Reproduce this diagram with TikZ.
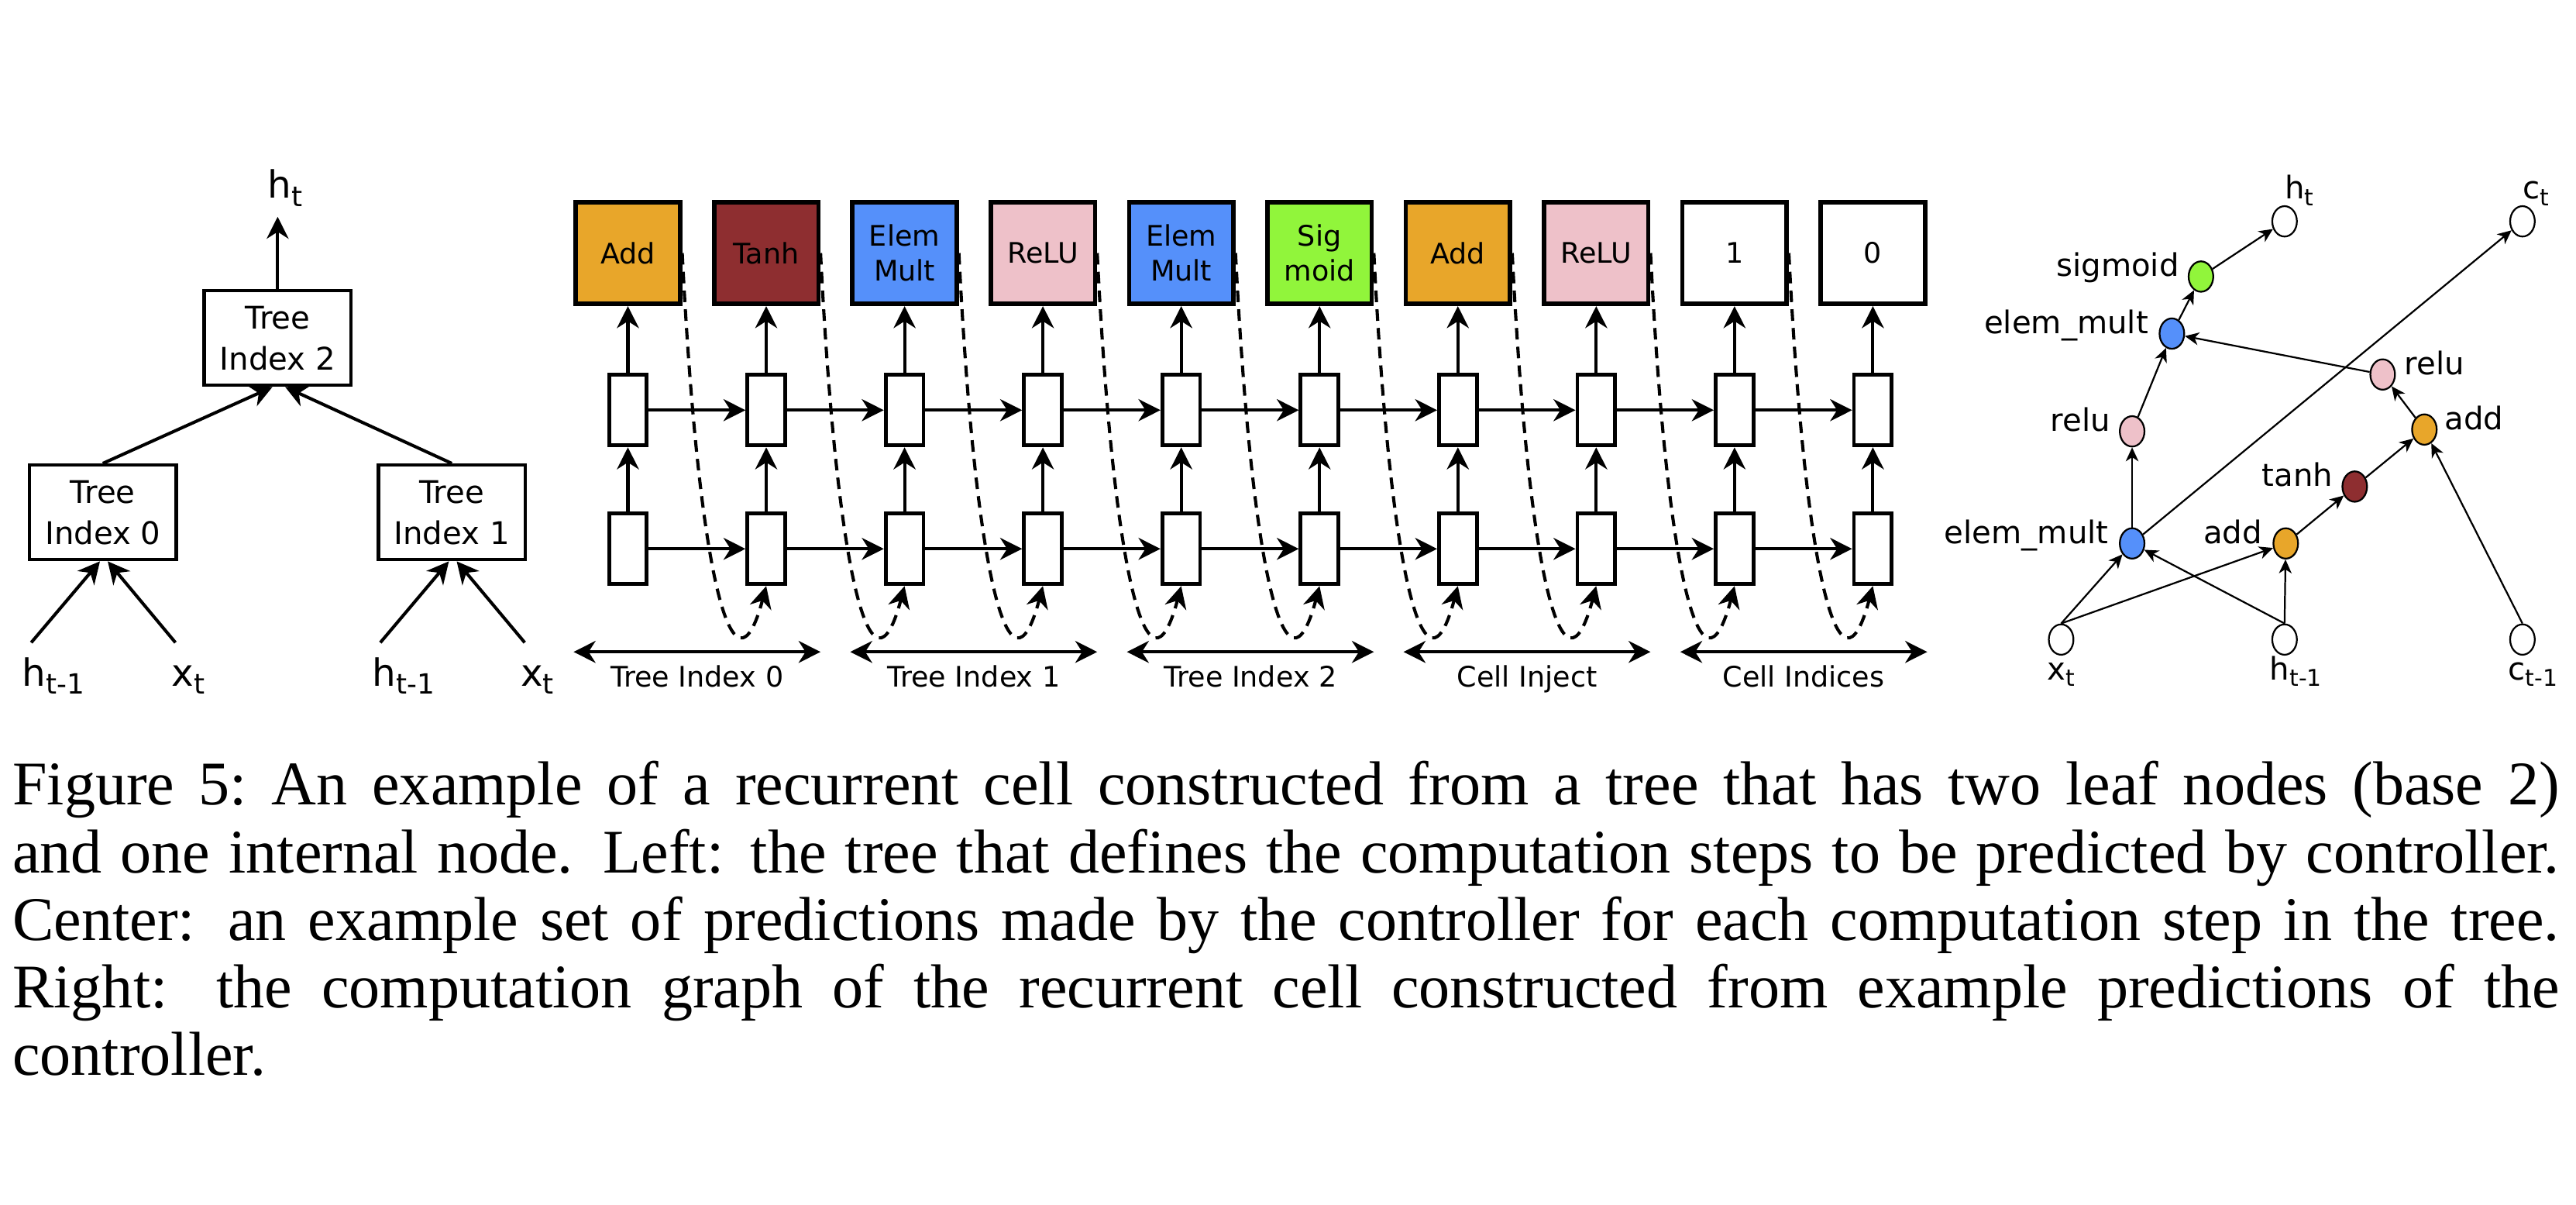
\documentclass[tikz,border=0pt]{standalone}
\usepackage{graphicx}
\usepackage{fontspec}
\setmainfont{Liberation Serif}
\newfontfamily\diafont{DejaVu Sans}
\usetikzlibrary{shapes, calc, arrows.meta, positioning}

\definecolor{addclr}{RGB}{232,166,42}
\definecolor{tanhclr}{RGB}{142,46,48}
\definecolor{multclr}{RGB}{85,144,250}
\definecolor{reluclr}{RGB}{238,193,201}
\definecolor{sigclr}{RGB}{145,245,59}

\newcommand{\lowidx}[1]{\raisebox{-0.22em}{\scalebox{0.74}{#1}}}

\begin{document}
\begin{tikzpicture}[x=0.02cm, y=-0.02cm,
    >={Stealth[length=7.6pt, width=7.6pt, inset=2.4pt]},
    tree/.style={draw, line width=1.2pt, minimum width=1.79cm, minimum height=1.15cm, inner sep=0pt, align=center, font=\diafont\fontsize{10.8}{14.2}\selectfont},
    leaf/.style={font=\diafont\fontsize{13}{15}\selectfont, inner sep=2pt, text height=12.8pt, text depth=4.3pt},
    op/.style={draw, line width=1.5pt, minimum width=1.27cm, minimum height=1.24cm, inner sep=0pt, align=center, font=\diafont\fontsize{9.8}{12}\selectfont},
    cell/.style={draw, line width=1.3pt, fill=white, minimum width=0.46cm, minimum height=0.86cm, inner sep=0pt},
    flow/.style={->, line width=1.1pt},
    jump/.style={->, line width=1.1pt, dash pattern=on 4pt off 2.5pt},
    grp/.style={font=\diafont\fontsize{9.8}{12}\selectfont, inner xsep=0pt, inner ysep=0.14cm, text height=8pt, text depth=1.6pt},
    gnode/.style={draw, ellipse, line width=0.6pt, minimum width=0.3cm, minimum height=0.37cm, inner sep=0pt},
    gname/.style={font=\diafont\fontsize{10.8}{13}\selectfont, inner sep=0pt},
    gedge/.style={-{Stealth[length=4.8pt, width=4.4pt, inset=1.4pt]}, line width=0.6pt}]

    \useasboundingbox (0,0) rectangle (1568,733);

    % left: the tree
    \node[tree] (t2) at (169,205.7) {Tree\\Index 2};
    \node[tree] (t0) at (62.6,311.8) {Tree\\Index 0};
    \node[tree] (t1) at (275,311.8) {Tree\\Index 1};
    \node[leaf, anchor=base] (out) at (173.6,120.5) {h\lowidx{t}};
    \node[leaf, anchor=base] (h0) at (32.5,417.4) {h\lowidx{t-1}};
    \node[leaf, anchor=base] (x0) at (114.6,417.4) {x\lowidx{t}};
    \node[leaf, anchor=base] (h1) at (245.5,417.4) {h\lowidx{t-1}};
    \node[leaf, anchor=base] (x1) at (327,417.4) {x\lowidx{t}};

    \draw[flow] (t2) -- (t2.north |- out.south);
    \draw[flow] (t0.north) -- ([xshift=-1.8pt]t2.south);
    \draw[flow] (t1.north) -- ([xshift=2.6pt]t2.south);
    \draw[flow] ([xshift=-0.27cm]h0.north) -- ([xshift=-1pt]t0.south);
    \draw[flow] ([xshift=-0.156cm]x0.north) -- ([xshift=1.7pt]t0.south);
    \draw[flow] ([xshift=-0.28cm]h1.north) -- ([xshift=-1pt]t1.south);
    \draw[flow] ([xshift=-0.152cm]x1.north) -- ([xshift=1.7pt]t1.south);

    % center: what the controller predicts
    \foreach \txt/\clr [count=\i from 0] in {Add/addclr, Tanh/tanhclr, {Elem\\Mult}/multclr, ReLU/reluclr, {Elem\\Mult}/multclr, {Sig\\moid}/sigclr, Add/addclr, ReLU/reluclr, 1/white, 0/white}{
        \node[op, fill=\clr] (op\i) at (382.2+84.2*\i,154) {\txt};
        \node[cell] (up\i) at (382.2+84.2*\i,249.6) {};
        \node[cell] (lo\i) at (382.2+84.2*\i,334) {};
        \draw[flow] (lo\i) -- (up\i);
        \draw[flow] (up\i) -- (op\i);
    }
    \foreach \i [evaluate=\i as \j using int(\i+1)] in {0,...,8}{
        \draw[flow] (up\i) -- (up\j);
        \draw[flow] (lo\i) -- (lo\j);
        \draw[jump] (op\i.east) .. controls +(10,200) and +(-20,75) .. (lo\j.south);
    }
    \foreach \grp [count=\k from 0] in {Tree Index 0, Tree Index 1, Tree Index 2, Cell Inject, Cell Indices}{
        \pgfmathtruncatemacro{\a}{2*\k}
        \pgfmathtruncatemacro{\b}{2*\k+1}
        \node[grp] (g\k) at (424.3+168.4*\k,412.5) {\grp};
        \draw[<->, line width=1.1pt] (op\a.west |- g\k.north) -- (op\b.east |- g\k.north);
    }

    % right: the computation graph
    \node[gnode] (xt) at (1254.6,389.2) {};
    \node[gnode] (hp) at (1390.6,389.2) {};
    \node[gnode] (cp) at (1535.4,389.2) {};
    \node[gnode, fill=multclr] (em1) at (1297.8,330.7) {};
    \node[gnode, fill=addclr] (ad1) at (1391.3,330.7) {};
    \node[gnode, fill=tanhclr] (th) at (1433.3,296.1) {};
    \node[gnode, fill=reluclr] (rl1) at (1297.8,262.5) {};
    \node[gnode, fill=addclr] (ad2) at (1475.7,261.4) {};
    \node[gnode, fill=reluclr] (rl2) at (1450.3,227.9) {};
    \node[gnode, fill=multclr] (em2) at (1322,203) {};
    \node[gnode, fill=sigclr] (sg) at (1339.7,168.3) {};
    \node[gnode] (hn) at (1390.6,134.7) {};
    \node[gnode] (cn) at (1535.4,134.7) {};

    \node[gname, anchor=base east] (lem1) at ([xshift=-0.12cm]em1.west) {elem\_mult};
    \node[gname, anchor=base east] (lad1) at ([xshift=-0.12cm]ad1.west) {add};
    \node[gname, anchor=base east] (lth) at ([xshift=-0.1cm]th.west) {tanh};
    \node[gname, anchor=base east] (lrl1) at ([xshift=-0.1cm]rl1.west) {relu};
    \node[gname, anchor=base west] (lad2) at ([xshift=0.08cm]ad2.east) {add};
    \node[gname, anchor=base west] (lrl2) at ([xshift=0.1cm]rl2.east) {relu};
    \node[gname, anchor=base east] (lem2) at ([xshift=-0.12cm]em2.west) {elem\_mult};
    \node[gname, anchor=base east] (lsg) at ([xshift=-0.1cm]sg.west) {sigmoid};
    \node[gname, anchor=base] (lhn) at ([xshift=0.178cm, yshift=0.076cm]hn.north) {h\lowidx{t}};
    \node[gname, anchor=base] (lcn) at ([xshift=0.166cm, yshift=0.076cm]cn.north) {c\lowidx{t}};
    \node[gname, anchor=base] (lxt) at ([yshift=-0.292cm]xt.south) {x\lowidx{t}};
    \node[gname, anchor=base] (lhp) at ([xshift=0.136cm, yshift=-0.292cm]hp.south) {h\lowidx{t-1}};
    \node[gname, anchor=base] (lcp) at ([xshift=0.128cm, yshift=-0.292cm]cp.south) {c\lowidx{t-1}};

    \draw[gedge] (xt.north) -- (em1);
    \draw[gedge] (xt.north) -- (ad1);
    \draw[gedge] (hp.north) -- (em1);
    \draw[gedge] (hp.north) -- (ad1);
    \draw[gedge] (em1) -- (rl1);
    \draw[gedge] (em1) -- (cn);
    \draw[gedge] (rl1) -- (em2);
    \draw[gedge] (ad1) -- (th);
    \draw[gedge] (th) -- (ad2);
    \draw[gedge] (cp.north) -- (ad2);
    \draw[gedge] (ad2) -- (rl2);
    \draw[gedge] (rl2) -- (em2);
    \draw[gedge] (em2) -- (sg);
    \draw[gedge] (sg) -- (hn);

    % caption (base anchor is the last line)
    \node[anchor=base west, inner sep=0pt, align=left, font=\fontsize{21.5}{23.4}\selectfont] (cap) at (7.3,654.4) {%
        \makebox[31.01cm][s]{Figure 5:\ An example of a recurrent cell constructed from a tree that has two leaf nodes (base 2)}\\
        \makebox[31.01cm][s]{and one internal node. Left: the tree that defines the computation steps to be predicted by controller.}\\
        \makebox[31.01cm][s]{Center: an example set of predictions made by the controller for each computation step in the tree.}\\
        \makebox[31.01cm][s]{Right: the computation graph of the recurrent cell constructed from example predictions of the}\\
        controller.};
\end{tikzpicture}
\end{document}
